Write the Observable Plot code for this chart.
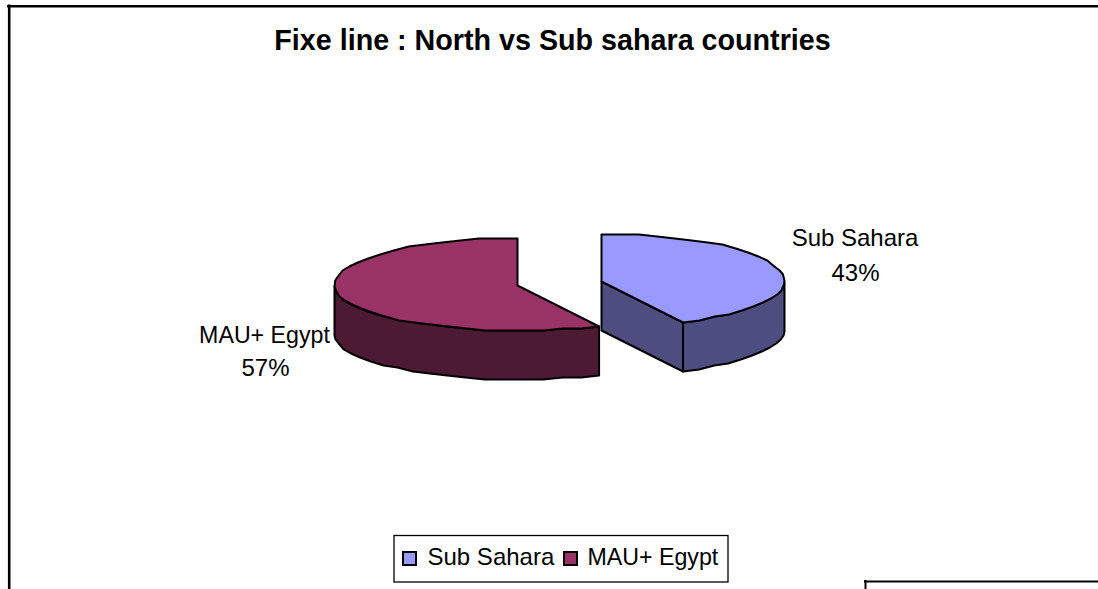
<!DOCTYPE html>
<html><head><meta charset="utf-8">
<script src="https://cdn.jsdelivr.net/npm/d3@7"></script>
<script src="https://cdn.jsdelivr.net/npm/@observablehq/plot@0.6"></script>
<style>html,body{margin:0;padding:0;background:#fff;overflow:hidden}svg{display:block}</style>
</head><body><div id="chart"></div>
<script>
const categories = ["Sub Sahara", "MAU+ Egypt"];
const shares = [43, 57];
const topColors = ["#9999ff", "#993366"];
const sideColors = ["#4d4d80", "#4d1a33"];
const titleText = "Fixe line : North vs Sub sahara countries";

const W = 1098, H = 589;
const FONT = "Liberation Sans, Arial, sans-serif";
const rx = 183, ryBack = 48, ryFront = 45, depth = 49, STEP = 6;
const slices = [{cx: 601, cy: 281}, {cx: 517, cy: 285}];

const total = d3.sum(shares);
// the tilted view pulls a boundary slightly towards the front of the disc
const view = a => a - 3 * Math.sin(a * Math.PI / 180);
let cum = 0;
const angles = shares.map(v => {
  const a0 = cum; cum += v;
  return [view(a0 / total * 360), view(cum / total * 360)];
});

// the outline is snapped to a coarse grid, like the low-resolution rim of the original
function rim(s, a0, a1, dy = 0) {
  const n = Math.max(1, Math.round(Math.abs(a1 - a0) / STEP));
  return d3.range(n + 1).map(i => {
    const a = (a0 + (a1 - a0) * i / n) * Math.PI / 180;
    const c = Math.cos(a);
    return {
      x: s.cx + rx * Math.sin(a),
      y: Math.round((s.cy - (c > 0 ? ryBack : ryFront) * c) / 2) * 2 + dy
    };
  });
}
const poly = (pts, fill) => Plot.line([...pts, pts[0]], {
  x: "x", y: "y", fill, stroke: "#000", strokeWidth: 2, strokeLinejoin: "round", curve: "linear"
});

const [b, m] = slices;
const [ba0, ba1] = angles[0];
const [ma0, ma1] = angles[1];
const apex = (s, dy = 0) => ({x: s.cx, y: s.cy + dy});

const textStyle = {fontFamily: FONT, fill: "#000"};
const sizes = [24, 23.2];

const marks = [
  // outer chart frame
  Plot.ruleY([5.7], {x1: 7, x2: W, stroke: "#000", strokeWidth: 2.6}),
  Plot.ruleX([8.7], {y1: 4.5, y2: H, stroke: "#000", strokeWidth: 2.6}),

  // maroon wall (rim from the cut edge round to the left extreme)
  poly([...rim(m, ma0, 270), ...rim(m, 270, ma0, depth)], sideColors[1]),
  poly(rim(m, ma0, ma1).concat(apex(m)), topColors[1]),

  // blue cut face and wall
  poly([apex(b), apex(b, depth), ...rim(b, ba1, ba1, depth), ...rim(b, ba1, ba1)], sideColors[0]),
  poly([...rim(b, 90, ba1), ...rim(b, ba1, 90, depth)], sideColors[0]),
  poly(rim(b, ba0, ba1).concat(apex(b)), topColors[0]),

  // title
  Plot.text([titleText], {x: 552, y: 40, text: d => d, fontSize: 28.7, fontWeight: "bold", ...textStyle}),

  // slice labels
  Plot.text([categories[0]], {x: 854.5, y: 238, text: d => d, fontSize: sizes[0], ...textStyle}),
  Plot.text([categories[1]], {x: 264, y: 335, text: d => d, fontSize: sizes[1], ...textStyle}),
  Plot.text(shares, {x: [855, 265], y: [272.5, 367.5], text: d => d + "%", fontSize: 24, ...textStyle}),

  // legend box
  Plot.rect([0], {x1: 394, x2: 728, y1: 535.5, y2: 582, fill: "#fff", stroke: "#000", strokeWidth: 1.3}),
  Plot.rect(categories, {x1: [403, 564], x2: [416, 577], y1: 552, y2: 565, fill: topColors, stroke: "#000", strokeWidth: 2}),
  Plot.text([categories[0]], {x: 427, y: 557, text: d => d, textAnchor: "start", fontSize: sizes[0], ...textStyle}),
  Plot.text([categories[1]], {x: 587, y: 557, text: d => d, textAnchor: "start", fontSize: sizes[1], ...textStyle}),

  // corner of the neighbouring box
  Plot.ruleY([581], {x1: 864, x2: W, stroke: "#000", strokeWidth: 2}),
  Plot.ruleX([865], {y1: 580, y2: H, stroke: "#000", strokeWidth: 2})
];

document.getElementById("chart").append(Plot.plot({
  width: W, height: H, margin: 0,
  x: {type: "linear", domain: [0, W], range: [0, W], axis: null},
  y: {type: "linear", domain: [0, H], range: [0, H], axis: null},
  marks
}));
</script></body></html>
